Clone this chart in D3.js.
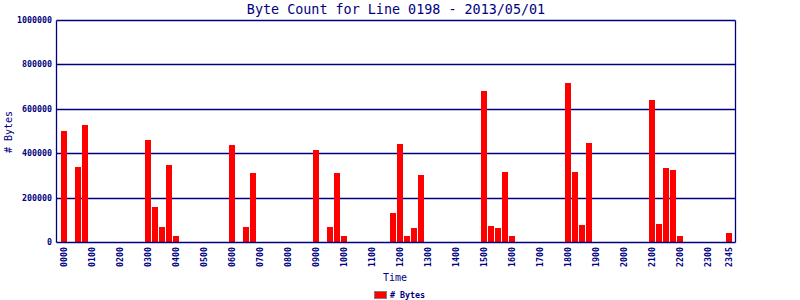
<!DOCTYPE html>
<html>
<head>
<meta charset="utf-8">
<script src="https://cdn.jsdelivr.net/npm/d3@7"></script>
<style>
  body { margin: 0; background: #fff; }
  text { font-family: "DejaVu Sans Mono", monospace; fill: #000080; }
</style>
</head>
<body>
<div id="canvas"></div>
<script>
"use strict"

let svgWidth = 800
let svgHeight = 300

/* 15 minute time slots */
let times = [
  "0000","0015","0030","0045","0100","0115","0130","0145","0200","0215","0230","0245",
  "0300","0315","0330","0345","0400","0415","0430","0445","0500","0515","0530","0545",
  "0600","0615","0630","0645","0700","0715","0730","0745","0800","0815","0830","0845",
  "0900","0915","0930","0945","1000","1015","1030","1045","1100","1115","1130","1145",
  "1200","1215","1230","1245","1300","1315","1330","1345","1400","1415","1430","1445",
  "1500","1515","1530","1545","1600","1615","1630","1645","1700","1715","1730","1745",
  "1800","1815","1830","1845","1900","1915","1930","1945","2000","2015","2030","2045",
  "2100","2115","2130","2145","2200","2215","2230","2245","2300","2315","2330","2345"
]

/* byte counts per slot (one row = 3 hours) */
let bytes = [
  500000, 0, 338000, 527000, 0, 0, 0, 0, 0, 0, 0, 0,
  459000, 158000, 68000, 347000, 27000, 0, 0, 0, 0, 0, 0, 0,
  437000, 0, 68000, 311000, 0, 0, 0, 0, 0, 0, 0, 0,
  414000, 0, 68000, 311000, 27000, 0, 0, 0, 0, 0, 0, 131000,
  441000, 27000, 63000, 302000, 0, 0, 0, 0, 0, 0, 0, 0,
  680000, 72000, 63000, 315000, 27000, 0, 0, 0, 0, 0, 0, 0,
  716000, 315000, 77000, 446000, 0, 0, 0, 0, 0, 0, 0, 0,
  640000, 81000, 333000, 324000, 27000, 0, 0, 0, 0, 0, 0, 40500
]

let xTickLabels = ["0000","0100","0200","0300","0400","0500","0600","0700","0800","0900",
  "1000","1100","1200","1300","1400","1500","1600","1700","1800","1900","2000","2100",
  "2200","2300","2345"]

let yTicks = [0, 200000, 400000, 600000, 800000, 1000000]

let plotLeft = 56.5
let plotRight = 735.5
let plotTop = 20.5
let plotBottom = 242.5
let navy = "#000080"

let svg = d3.select("#canvas")
    .append("svg")
    .attr("width", svgWidth)
    .attr("height", svgHeight)

let xScale = d3.scaleBand()
    .domain(times)
    .range([60.5, 732.5])
    .paddingInner(1 / 7)
    .paddingOuter(1 / 14)

let yScale = d3.scaleLinear()
    .domain([0, 1000000])
    .range([242, 20])

/* title */
svg.append("text")
    .attr("x", 396)
    .attr("y", 14)
    .attr("text-anchor", "middle")
    .style("font-size", "13.4px")
    .text("Byte Count for Line 0198 - 2013/05/01")

/* grid lines */
svg.selectAll("line.grid")
    .data(yTicks.slice(1))
    .join("line")
    .attr("class", "grid")
    .attr("x1", plotLeft)
    .attr("x2", plotRight)
    .attr("y1", d => Math.round(yScale(d)) + 0.5)
    .attr("y2", d => Math.round(yScale(d)) + 0.5)
    .attr("stroke", navy)
    .attr("stroke-width", 1.3)

/* bars */
let data = times.map((t, i) => ({time: t, value: bytes[i]}))

svg.selectAll("rect.bar")
    .data(data.filter(d => d.value > 0))
    .join("rect")
    .attr("class", "bar")
    .attr("x", d => xScale(d.time))
    .attr("width", xScale.bandwidth())
    .attr("y", d => Math.round(yScale(d.value)))
    .attr("height", d => 242 - Math.round(yScale(d.value)))
    .attr("fill", "#ff0000")

/* axes box */
svg.append("line")
    .attr("x1", plotLeft).attr("x2", plotLeft)
    .attr("y1", plotTop).attr("y2", plotBottom)
    .attr("stroke", navy).attr("stroke-width", 1.3)

svg.append("line")
    .attr("x1", plotRight).attr("x2", plotRight)
    .attr("y1", plotTop).attr("y2", plotBottom)
    .attr("stroke", navy).attr("stroke-width", 1.3)

svg.append("line")
    .attr("x1", plotLeft).attr("x2", plotRight)
    .attr("y1", plotBottom).attr("y2", plotBottom)
    .attr("stroke", navy).attr("stroke-width", 1.3)

/* y tick labels */
svg.selectAll("text.ytick")
    .data(yTicks)
    .join("text")
    .attr("class", "ytick")
    .attr("x", 52)
    .attr("y", d => yScale(d) + 3)
    .attr("text-anchor", "end")
    .style("font-size", "8.3px")
    .style("font-weight", "bold")
    .text(d => d)

/* x tick labels */
svg.selectAll("text.xtick")
    .data(xTickLabels)
    .join("text")
    .attr("class", "xtick")
    .attr("transform", d => "translate(" + (xScale(d) + xScale.bandwidth() / 2 + 3) + ",247) rotate(-90)")
    .attr("text-anchor", "end")
    .style("font-size", "8.3px")
    .style("font-weight", "bold")
    .text(d => d)

/* axis titles */
svg.append("text")
    .attr("x", 395)
    .attr("y", 281)
    .attr("text-anchor", "middle")
    .style("font-size", "10px")
    .text("Time")

svg.append("text")
    .attr("transform", "translate(12,132) rotate(-90)")
    .attr("text-anchor", "middle")
    .style("font-size", "10px")
    .text("# Bytes")

/* legend */
svg.append("rect")
    .attr("x", 374.5)
    .attr("y", 291.5)
    .attr("width", 12)
    .attr("height", 7)
    .attr("fill", "#ff0000")
    .attr("stroke", "#808080")
    .attr("stroke-width", 1)

svg.append("text")
    .attr("x", 390)
    .attr("y", 298)
    .style("font-size", "8.3px")
    .style("font-weight", "bold")
    .text("# Bytes")
</script>
</body>
</html>
